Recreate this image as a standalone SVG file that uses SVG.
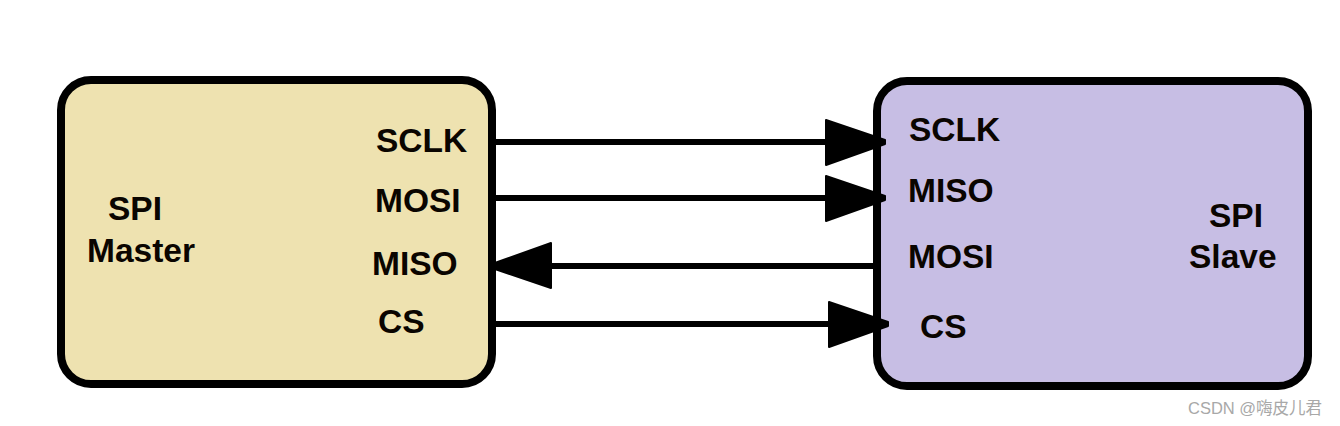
<svg xmlns="http://www.w3.org/2000/svg" width="1340" height="426" viewBox="0 0 1340 426">
<defs>
<style>
.box{stroke:#000;stroke-width:8}
.lbl{font-family:"Liberation Sans",Arial,sans-serif;font-weight:bold;font-size:33.5px;fill:#0a0500}
.wire{stroke:#000;stroke-width:6;fill:none;marker-end:url(#ah)}
.wm{font-family:"Liberation Sans","Noto Sans CJK SC",sans-serif;font-size:16.5px;fill:#a8a8a8}
</style>
<marker id="ah" markerUnits="userSpaceOnUse" markerWidth="62" markerHeight="48" refX="60" refY="23" orient="auto" viewBox="0 0 62 48">
<path d="M1,1 L60,21 L60,25 L1,46 Z" fill="#000" stroke="#000" stroke-width="2" stroke-linejoin="round"/>
</marker>
</defs>
<rect width="1340" height="426" fill="#fff"/>
<g id="master">
<rect class="box" x="61" y="80" width="431" height="304" rx="30" fill="#EEE2B0"/>
<text class="lbl" x="108" y="220">SPI</text>
<text class="lbl" x="87" y="262">Master</text>
<text class="lbl" x="376" y="152">SCLK</text>
<text class="lbl" x="375" y="212">MOSI</text>
<text class="lbl" x="372" y="275">MISO</text>
<text class="lbl" x="378" y="333">CS</text>
</g>
<g id="slave">
<rect class="box" x="877" y="81" width="431" height="305" rx="30" fill="#C7BEE4"/>
<text class="lbl" x="909" y="141">SCLK</text>
<text class="lbl" x="908" y="202">MISO</text>
<text class="lbl" x="908" y="268">MOSI</text>
<text class="lbl" x="920" y="338">CS</text>
<text class="lbl" x="1209" y="227">SPI</text>
<text class="lbl" x="1189" y="268">Slave</text>
</g>
<g id="connectors">
<line class="wire" x1="492" y1="142" x2="885" y2="142"/>
<line class="wire" x1="488" y1="198" x2="885" y2="198"/>
<line class="wire" x1="877" y1="266" x2="492" y2="266"/>
<line class="wire" x1="488" y1="324" x2="888" y2="324"/>
</g>
<text class="wm" x="1188" y="414">CSDN @嗨皮儿君</text>
</svg>
